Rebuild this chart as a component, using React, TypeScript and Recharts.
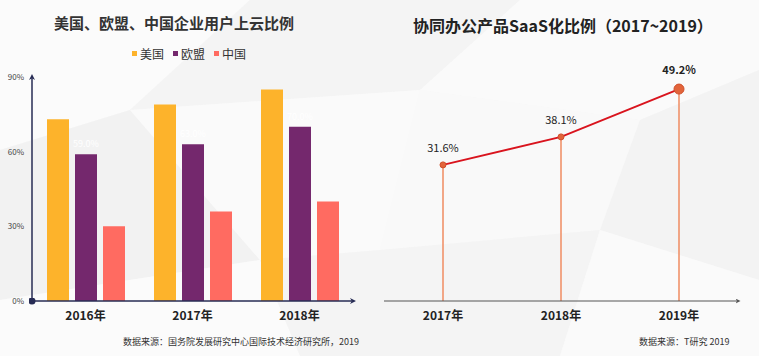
import React from "react";
import {
  BarChart,
  Bar,
  ComposedChart,
  Line,
  XAxis,
  YAxis,
  LabelList,
} from "recharts";

const YEARS_LEFT = ["2016年", "2017年", "2018年"];
const USA = [73, 79, 85];
const EU = [59, 63, 70];
const CHINA = [30, 36, 40];
const LEFT_TICKS = [0, 30, 60, 90];

const YEARS_RIGHT = ["2017年", "2018年", "2019年"];
const SAAS = [31.6, 38.1, 49.2];

const FONT = '"Noto Sans CJK SC", "Noto Sans", sans-serif';
const NAVY = "#272c55";

const COLORS = {
  usa: "#FDB32B",
  eu: "#74286D",
  china: "#FF6B61",
};

const LEGEND_ITEMS = [
  { name: "美国", color: COLORS.usa },
  { name: "欧盟", color: COLORS.eu },
  { name: "中国", color: COLORS.china },
];

const leftData = YEARS_LEFT.map((year, i) => ({
  year,
  usa: USA[i],
  eu: EU[i],
  china: CHINA[i],
}));

const rightData = YEARS_RIGHT.map((year, i) => ({ year, value: SAAS[i] }));

// thin salmon drop line from each point down to the axis
const DropLine = (props: any) => {
  const { x, y, width, height } = props;
  const cx = x + width / 2;
  return <rect x={cx - 0.75} y={y} width={1.5} height={height} fill="#F08C62" />;
};

const SaasDot = (props: any) => {
  const { cx, cy, index } = props;
  const last = index === SAAS.length - 1;
  return (
    <circle
      key={index}
      cx={cx}
      cy={cy}
      r={last ? 5 : 3}
      fill="#E2643A"
      stroke="#D0502C"
      strokeWidth={1}
    />
  );
};

const SaasLabel = (props: any) => {
  const { x, y, value, index } = props;
  const last = index === SAAS.length - 1;
  return (
    <text
      x={x}
      y={y - (last ? 15 : 13)}
      textAnchor="middle"
      fontSize={11}
      fontWeight={last ? 700 : 400}
      fill="#222"
      fontFamily={FONT}
    >
      {value.toFixed(1)}%
    </text>
  );
};

const Background = () => (
  <svg width={759} height={356} style={{ position: "absolute", left: 0, top: 0 }}>
    <rect width={759} height={356} fill="#f7f7f7" />
    <polygon points="0,0 250,0 130,110 0,150" fill="#fbfbfb" />
    <polygon points="250,0 520,0 420,90 130,110" fill="#f4f4f4" />
    <polygon points="520,0 759,0 759,70 640,120 420,90" fill="#fafafa" />
    <polygon points="0,150 130,110 260,260 0,300" fill="#f2f2f2" />
    <polygon points="130,110 420,90 380,250 260,260" fill="#fafafa" />
    <polygon points="420,90 640,120 600,230 380,250" fill="#f9f9f9" />
    <polygon points="640,120 759,70 759,280 600,230" fill="#f3f3f3" />
    <polygon points="0,300 260,260 300,356 0,356" fill="#fbfbfb" />
    <polygon points="260,260 380,250 600,230 560,356 300,356" fill="#f4f4f4" />
    <polygon points="600,230 759,280 759,356 560,356" fill="#fafafa" />
  </svg>
);

export default function App() {
  return (
    <div
      style={{
        position: "absolute",
        left: 0,
        top: 0,
        width: 759,
        height: 356,
        overflow: "hidden",
        fontFamily: FONT,
      }}
    >
      <Background />

      <div
        style={{
          position: "absolute",
          left: 54,
          top: 12,
          fontSize: 15,
          fontWeight: 700,
          color: "#333",
          whiteSpace: "nowrap",
        }}
      >
        美国、欧盟、中国企业用户上云比例
      </div>
      <div
        style={{
          position: "absolute",
          left: 413,
          top: 13,
          fontSize: 16,
          fontWeight: 700,
          color: "#222",
          whiteSpace: "nowrap",
        }}
      >
        协同办公产品SaaS化比例（2017~2019）
      </div>

      <div
        style={{
          position: "absolute",
          left: 132,
          top: 45,
          display: "flex",
          gap: 9,
          fontSize: 12,
          color: "#333",
        }}
      >
        {LEGEND_ITEMS.map((item) => (
          <div key={item.name} style={{ display: "flex", alignItems: "center", gap: 3 }}>
            <span style={{ width: 5, height: 5, background: item.color, display: "inline-block" }} />
            <span>{item.name}</span>
          </div>
        ))}
      </div>

      <div style={{ position: "absolute", left: 0, top: 0 }}>
        <BarChart
          width={380}
          height={356}
          data={leftData}
          margin={{ top: 77, right: 27, left: 0, bottom: 25 }}
          barGap={6}
          barSize={22}
        >
          <defs>
            <marker
              id="arrowNavy"
              viewBox="0 0 10 10"
              refX="5"
              refY="5"
              markerWidth="6"
              markerHeight="6"
              orient="auto-start-reverse"
              markerUnits="userSpaceOnUse"
            >
              <path d="M0,0 L10,5 L0,10 L3,5 z" fill={NAVY} />
            </marker>
            <marker
              id="dotNavy"
              viewBox="0 0 10 10"
              refX="5"
              refY="5"
              markerWidth="7"
              markerHeight="7"
              markerUnits="userSpaceOnUse"
            >
              <circle cx="5" cy="5" r="5" fill={NAVY} />
            </marker>
          </defs>
          <XAxis
            dataKey="year"
            height={30}
            tickLine={false}
            axisLine={{ stroke: NAVY, strokeWidth: 1.5, markerEnd: "url(#arrowNavy)" }}
            tick={{ fill: "#222", fontSize: 12, fontWeight: 700, fontFamily: FONT }}
            tickMargin={4}
          />
          <YAxis
            width={32}
            domain={[0, 90]}
            ticks={LEFT_TICKS}
            tickFormatter={(v) => `${v}%`}
            tickLine={false}
            axisLine={{
              stroke: NAVY,
              strokeWidth: 1.5,
              markerStart: "url(#arrowNavy)",
              markerEnd: "url(#dotNavy)",
            }}
            tick={{ fill: "#444", fontSize: 8, fontFamily: FONT }}
          />
          <Bar dataKey="usa" name="美国" fill={COLORS.usa} isAnimationActive={false} />
          <Bar dataKey="eu" name="欧盟" fill={COLORS.eu} isAnimationActive={false}>
            <LabelList
              dataKey="eu"
              position="top"
              offset={7}
              formatter={(v: any) => `${Number(v).toFixed(1)}%`}
              style={{ fill: "#ffffff", fontSize: 9, fontFamily: FONT }}
            />
          </Bar>
          <Bar dataKey="china" name="中国" fill={COLORS.china} isAnimationActive={false} />
        </BarChart>
      </div>

      <div style={{ position: "absolute", left: 384, top: 0 }}>
        <ComposedChart
          width={375}
          height={356}
          data={rightData}
          margin={{ top: 77, right: 21, left: 0, bottom: 25 }}
        >
          <defs>
            <marker
              id="arrowGray"
              viewBox="0 0 10 10"
              refX="5"
              refY="5"
              markerWidth="5"
              markerHeight="5"
              orient="auto"
              markerUnits="userSpaceOnUse"
            >
              <path d="M0,0 L10,5 L0,10 L3,5 z" fill="#555" />
            </marker>
          </defs>
          <XAxis
            dataKey="year"
            height={30}
            tickLine={false}
            axisLine={{ stroke: "#555", strokeWidth: 1.2, markerEnd: "url(#arrowGray)" }}
            tick={{ fill: "#222", fontSize: 12, fontWeight: 700, fontFamily: FONT }}
            tickMargin={4}
          />
          <YAxis hide domain={[0, 52]} />
          <Bar dataKey="value" barSize={2} fill="#F08C62" shape={<DropLine />} isAnimationActive={false} />
          <Line
            type="linear"
            dataKey="value"
            stroke="#D9141E"
            strokeWidth={2}
            dot={<SaasDot />}
            activeDot={false}
            isAnimationActive={false}
          >
            <LabelList dataKey="value" content={<SaasLabel />} />
          </Line>
        </ComposedChart>
      </div>

      <div
        style={{
          position: "absolute",
          left: 123,
          top: 335,
          fontSize: 9,
          color: "#333",
          whiteSpace: "nowrap",
        }}
      >
        数据来源：国务院发展研究中心国际技术经济研究所，2019
      </div>
      <div
        style={{
          position: "absolute",
          left: 639,
          top: 335,
          fontSize: 9,
          color: "#333",
          whiteSpace: "nowrap",
        }}
      >
        数据来源：T研究 2019
      </div>
    </div>
  );
}
